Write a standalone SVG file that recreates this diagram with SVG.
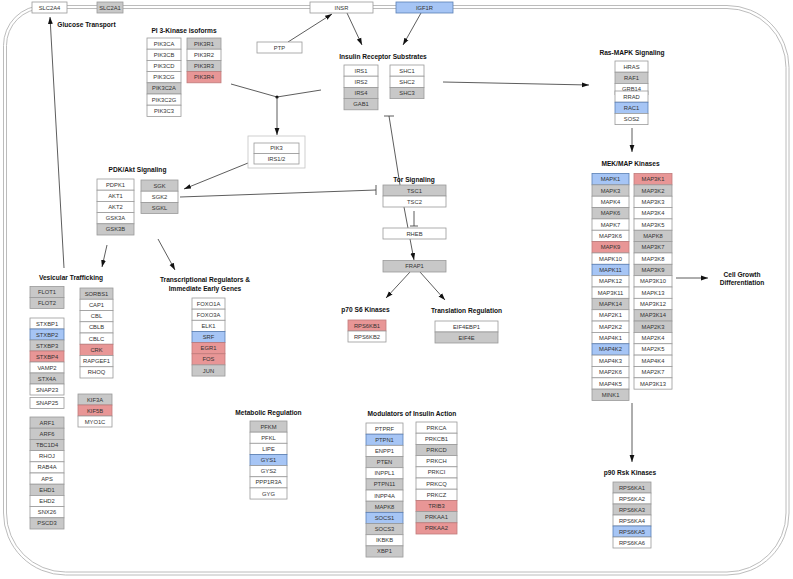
<svg xmlns="http://www.w3.org/2000/svg" width="793" height="579" viewBox="0 0 793 579">
<style>
rect{stroke-width:0.8}
.w{fill:#ffffff;stroke:#9a9a9a}
.g{fill:#c8c8c8;stroke:#9a9a9a}
.b{fill:#a6c5f5;stroke:#5a7fb5}
.r{fill:#e89696;stroke:#c07a7a}
text{font-family:"Liberation Sans",Arial,sans-serif}
.t{font-size:5.8px;fill:#333;text-anchor:middle}
.h{font-size:6.6px;font-weight:bold;fill:#111;text-anchor:middle}
.c line,.c path{stroke:#333;stroke-width:0.8;fill:none}
.mem{fill:none;stroke:#b4b4b4;stroke-width:0.9}
</style>
<defs>
<marker id="ah" markerUnits="userSpaceOnUse" markerWidth="8" markerHeight="6" refX="7" refY="3" orient="auto"><path d="M0,0.6 L7,3 L0,5.4 Z" fill="#111"/></marker>
</defs>
<rect width="793" height="579" fill="#fff"/>
<g id="membrane">
<path class="mem" d="M43.5,5.5 H727 A62 62 0 0 1 789,67.5 V513 A62 62 0 0 1 727,575 H65.5 A62 62 0 0 1 3.5,513 V45.5 A40 40 0 0 1 43.5,5.5 Z"/>
<path class="mem" d="M43.5,8.5 H727 A59 59 0 0 1 786,67.5 V513 A59 59 0 0 1 727,572 H65.5 A59 59 0 0 1 6.5,513 V45.5 A37 37 0 0 1 43.5,8.5 Z"/>
</g>
<g id="connectors" class="c">
<line x1="288" y1="42" x2="332" y2="14" marker-end="url(#ah)"/>
<line x1="347" y1="13" x2="362" y2="45" marker-end="url(#ah)"/>
<line x1="421" y1="13" x2="403" y2="45" marker-end="url(#ah)"/>
<line x1="443" y1="82" x2="589" y2="85" marker-end="url(#ah)"/>
<line x1="632" y1="128" x2="632" y2="152" marker-end="url(#ah)"/>
<line x1="676" y1="278" x2="708" y2="278" marker-end="url(#ah)"/>
<line x1="632" y1="403" x2="632" y2="462" marker-end="url(#ah)"/>
<line x1="231" y1="84" x2="277" y2="97"/>
<line x1="321" y1="90" x2="277" y2="97"/>
<circle cx="277" cy="97" r="1.6" fill="#111"/>
<line x1="277" y1="97" x2="277" y2="135" marker-end="url(#ah)"/>
<line x1="248" y1="163" x2="184" y2="189" marker-end="url(#ah)"/>
<line x1="180" y1="197" x2="376" y2="190"/>
<line x1="376" y1="185" x2="376" y2="195"/>
<line x1="400" y1="185" x2="389" y2="116"/>
<line x1="384" y1="116" x2="394" y2="116"/>
<line x1="414" y1="211" x2="414" y2="226"/>
<line x1="410" y1="226" x2="418" y2="226"/>
<line x1="404" y1="207" x2="414" y2="260" marker-end="url(#ah)"/>
<line x1="410" y1="272" x2="386" y2="298" marker-end="url(#ah)"/>
<line x1="420" y1="272" x2="445" y2="300" marker-end="url(#ah)"/>
<line x1="107" y1="245" x2="102" y2="267" marker-end="url(#ah)"/>
<line x1="158" y1="239" x2="175" y2="270" marker-end="url(#ah)"/>
<line x1="64" y1="268" x2="50" y2="17" marker-end="url(#ah)"/>
</g>
<g id="titles">
<text class="h" x="86.5" y="26.5">Glucose Transport</text>
<text class="h" x="184" y="33">PI 3-Kinase isoforms</text>
<text class="h" x="383" y="58.5">Insulin Receptor Substrates</text>
<text class="h" x="632" y="54.5">Ras-MAPK Signaling</text>
<text class="h" x="630.5" y="165.5">MEK/MAP Kinases</text>
<text class="h" x="137.5" y="171.5">PDK/Akt Signaling</text>
<text class="h" x="414" y="181.5">Tor Signaling</text>
<text class="h" x="71" y="279.5">Vesicular Trafficking</text>
<text class="h" x="205" y="282.3">Transcriptional Regulators &amp;</text>
<text class="h" x="205" y="290.5">Immediate Early Genes</text>
<text class="h" x="365.5" y="311.5">p70 S6 Kinases</text>
<text class="h" x="466.5" y="312.5">Translation Regulation</text>
<text class="h" x="742" y="276.5">Cell Growth</text>
<text class="h" x="742" y="285">Differentiation</text>
<text class="h" x="268.5" y="414.5">Metabolic Regulation</text>
<text class="h" x="412" y="415.5">Modulators of Insulin Action</text>
<text class="h" x="630" y="474.5">p90 Rsk Kinases</text>
</g>
<g id="n-SLC2A4"><rect class="w" x="32" y="2" width="35" height="11"/><text class="t" x="49.5" y="9.6">SLC2A4</text></g>
<g id="n-SLC2A1"><rect class="g" x="97" y="2" width="26" height="11"/><text class="t" x="110" y="9.6">SLC2A1</text></g>
<g id="n-INSR"><rect class="w" x="310" y="2" width="63" height="11"/><text class="t" x="341.5" y="9.6">INSR</text></g>
<g id="n-IGF1R"><rect class="b" x="396" y="2" width="57" height="11"/><text class="t" x="424.5" y="9.6">IGF1R</text></g>
<g id="n-PTP"><rect class="w" x="257" y="42" width="45" height="11"/><text class="t" x="279.5" y="49.6">PTP</text></g>
<g id="n-PIK3CA"><rect class="w" x="147" y="38" width="34" height="11.2"/><text class="t" x="164" y="45.6">PIK3CA</text></g>
<g id="n-PIK3CB"><rect class="w" x="147" y="49.2" width="34" height="11.2"/><text class="t" x="164" y="56.8">PIK3CB</text></g>
<g id="n-PIK3CD"><rect class="w" x="147" y="60.4" width="34" height="11.2"/><text class="t" x="164" y="68">PIK3CD</text></g>
<g id="n-PIK3CG"><rect class="w" x="147" y="71.6" width="34" height="11.2"/><text class="t" x="164" y="79.2">PIK3CG</text></g>
<g id="n-PIK3C2A"><rect class="g" x="147" y="82.8" width="34" height="11.2"/><text class="t" x="164" y="90.4">PIK3C2A</text></g>
<g id="n-PIK3C2G"><rect class="w" x="147" y="94" width="34" height="11.2"/><text class="t" x="164" y="101.6">PIK3C2G</text></g>
<g id="n-PIK3C3"><rect class="w" x="147" y="105.2" width="34" height="11.2"/><text class="t" x="164" y="112.8">PIK3C3</text></g>
<g id="n-PIK3R1"><rect class="g" x="187" y="38" width="34" height="11.2"/><text class="t" x="204" y="45.6">PIK3R1</text></g>
<g id="n-PIK3R2"><rect class="w" x="187" y="49.2" width="34" height="11.2"/><text class="t" x="204" y="56.8">PIK3R2</text></g>
<g id="n-PIK3R3"><rect class="g" x="187" y="60.4" width="34" height="11.2"/><text class="t" x="204" y="68">PIK3R3</text></g>
<g id="n-PIK3R4"><rect class="r" x="187" y="71.6" width="34" height="11.2"/><text class="t" x="204" y="79.2">PIK3R4</text></g>
<g id="n-IRS1"><rect class="w" x="344" y="65" width="34" height="11.2"/><text class="t" x="361" y="72.6">IRS1</text></g>
<g id="n-IRS2"><rect class="w" x="344" y="76.2" width="34" height="11.2"/><text class="t" x="361" y="83.8">IRS2</text></g>
<g id="n-IRS4"><rect class="g" x="344" y="87.4" width="34" height="11.2"/><text class="t" x="361" y="95">IRS4</text></g>
<g id="n-GAB1"><rect class="g" x="344" y="98.6" width="34" height="11.2"/><text class="t" x="361" y="106.2">GAB1</text></g>
<g id="n-SHC1"><rect class="w" x="390" y="65" width="34" height="11.2"/><text class="t" x="407" y="72.6">SHC1</text></g>
<g id="n-SHC2"><rect class="w" x="390" y="76.2" width="34" height="11.2"/><text class="t" x="407" y="83.8">SHC2</text></g>
<g id="n-SHC3"><rect class="g" x="390" y="87.4" width="34" height="11.2"/><text class="t" x="407" y="95">SHC3</text></g>
<g id="n-HRAS"><rect class="w" x="615" y="61" width="33" height="11.2"/><text class="t" x="631.5" y="68.6">HRAS</text></g>
<g id="n-RAF1"><rect class="g" x="615" y="72.2" width="33" height="11.2"/><text class="t" x="631.5" y="79.8">RAF1</text></g>
<g id="n-GRB14"><rect class="w" x="615" y="83.4" width="33" height="11.2"/><text class="t" x="631.5" y="90.6">GRB14</text></g>
<g id="n-RRAD"><rect class="w" x="615" y="91" width="33" height="11.2"/><text class="t" x="631.5" y="98.6">RRAD</text></g>
<g id="n-RAC1"><rect class="b" x="615" y="102.2" width="33" height="11.2"/><text class="t" x="631.5" y="109.8">RAC1</text></g>
<g id="n-SOS2"><rect class="w" x="615" y="113.4" width="33" height="11.2"/><text class="t" x="631.5" y="121">SOS2</text></g>
<g id="n-MAPK1"><rect class="b" x="592" y="173.5" width="37" height="11.35"/><text class="t" x="610.5" y="181.2">MAPK1</text></g>
<g id="n-MAPK3"><rect class="g" x="592" y="184.85" width="37" height="11.35"/><text class="t" x="610.5" y="192.55">MAPK3</text></g>
<g id="n-MAPK4"><rect class="w" x="592" y="196.2" width="37" height="11.35"/><text class="t" x="610.5" y="203.9">MAPK4</text></g>
<g id="n-MAPK6"><rect class="g" x="592" y="207.55" width="37" height="11.35"/><text class="t" x="610.5" y="215.25">MAPK6</text></g>
<g id="n-MAPK7"><rect class="w" x="592" y="218.9" width="37" height="11.35"/><text class="t" x="610.5" y="226.6">MAPK7</text></g>
<g id="n-MAP3K6"><rect class="w" x="592" y="230.25" width="37" height="11.35"/><text class="t" x="610.5" y="237.95">MAP3K6</text></g>
<g id="n-MAPK9"><rect class="r" x="592" y="241.6" width="37" height="11.35"/><text class="t" x="610.5" y="249.3">MAPK9</text></g>
<g id="n-MAPK10"><rect class="w" x="592" y="252.95" width="37" height="11.35"/><text class="t" x="610.5" y="260.65">MAPK10</text></g>
<g id="n-MAPK11"><rect class="b" x="592" y="264.3" width="37" height="11.35"/><text class="t" x="610.5" y="272">MAPK11</text></g>
<g id="n-MAPK12"><rect class="w" x="592" y="275.65" width="37" height="11.35"/><text class="t" x="610.5" y="283.35">MAPK12</text></g>
<g id="n-MAP3K11"><rect class="w" x="592" y="287" width="37" height="11.35"/><text class="t" x="610.5" y="294.7">MAP3K11</text></g>
<g id="n-MAPK14"><rect class="g" x="592" y="298.35" width="37" height="11.35"/><text class="t" x="610.5" y="306.05">MAPK14</text></g>
<g id="n-MAP2K1"><rect class="w" x="592" y="309.7" width="37" height="11.35"/><text class="t" x="610.5" y="317.4">MAP2K1</text></g>
<g id="n-MAP2K2"><rect class="w" x="592" y="321.05" width="37" height="11.35"/><text class="t" x="610.5" y="328.75">MAP2K2</text></g>
<g id="n-MAP4K1"><rect class="w" x="592" y="332.4" width="37" height="11.35"/><text class="t" x="610.5" y="340.1">MAP4K1</text></g>
<g id="n-MAP4K2"><rect class="b" x="592" y="343.75" width="37" height="11.35"/><text class="t" x="610.5" y="351.45">MAP4K2</text></g>
<g id="n-MAP4K3"><rect class="w" x="592" y="355.1" width="37" height="11.35"/><text class="t" x="610.5" y="362.8">MAP4K3</text></g>
<g id="n-MAP2K6"><rect class="w" x="592" y="366.45" width="37" height="11.35"/><text class="t" x="610.5" y="374.15">MAP2K6</text></g>
<g id="n-MAP4K5"><rect class="w" x="592" y="377.8" width="37" height="11.35"/><text class="t" x="610.5" y="385.5">MAP4K5</text></g>
<g id="n-MINK1"><rect class="g" x="592" y="389.15" width="37" height="11.35"/><text class="t" x="610.5" y="396.85">MINK1</text></g>
<g id="n-MAP3K1"><rect class="r" x="634" y="173.5" width="38" height="11.35"/><text class="t" x="653" y="181.2">MAP3K1</text></g>
<g id="n-MAP3K2"><rect class="g" x="634" y="184.85" width="38" height="11.35"/><text class="t" x="653" y="192.55">MAP3K2</text></g>
<g id="n-MAP3K3"><rect class="w" x="634" y="196.2" width="38" height="11.35"/><text class="t" x="653" y="203.9">MAP3K3</text></g>
<g id="n-MAP3K4"><rect class="w" x="634" y="207.55" width="38" height="11.35"/><text class="t" x="653" y="215.25">MAP3K4</text></g>
<g id="n-MAP3K5"><rect class="w" x="634" y="218.9" width="38" height="11.35"/><text class="t" x="653" y="226.6">MAP3K5</text></g>
<g id="n-MAPK8b"><rect class="g" x="634" y="230.25" width="38" height="11.35"/><text class="t" x="653" y="237.95">MAPK8</text></g>
<g id="n-MAP3K7"><rect class="g" x="634" y="241.6" width="38" height="11.35"/><text class="t" x="653" y="249.3">MAP3K7</text></g>
<g id="n-MAP3K8"><rect class="w" x="634" y="252.95" width="38" height="11.35"/><text class="t" x="653" y="260.65">MAP3K8</text></g>
<g id="n-MAP3K9"><rect class="g" x="634" y="264.3" width="38" height="11.35"/><text class="t" x="653" y="272">MAP3K9</text></g>
<g id="n-MAP3K10"><rect class="w" x="634" y="275.65" width="38" height="11.35"/><text class="t" x="653" y="283.35">MAP3K10</text></g>
<g id="n-MAPK13"><rect class="w" x="634" y="287" width="38" height="11.35"/><text class="t" x="653" y="294.7">MAPK13</text></g>
<g id="n-MAP3K12"><rect class="w" x="634" y="298.35" width="38" height="11.35"/><text class="t" x="653" y="306.05">MAP3K12</text></g>
<g id="n-MAP3K14"><rect class="g" x="634" y="309.7" width="38" height="11.35"/><text class="t" x="653" y="317.4">MAP3K14</text></g>
<g id="n-MAP2K3"><rect class="g" x="634" y="321.05" width="38" height="11.35"/><text class="t" x="653" y="328.75">MAP2K3</text></g>
<g id="n-MAP2K4"><rect class="w" x="634" y="332.4" width="38" height="11.35"/><text class="t" x="653" y="340.1">MAP2K4</text></g>
<g id="n-MAP2K5"><rect class="w" x="634" y="343.75" width="38" height="11.35"/><text class="t" x="653" y="351.45">MAP2K5</text></g>
<g id="n-MAP4K4"><rect class="w" x="634" y="355.1" width="38" height="11.35"/><text class="t" x="653" y="362.8">MAP4K4</text></g>
<g id="n-MAP2K7"><rect class="w" x="634" y="366.45" width="38" height="11.35"/><text class="t" x="653" y="374.15">MAP2K7</text></g>
<g id="n-MAP3K13"><rect class="w" x="634" y="377.8" width="38" height="11.35"/><text class="t" x="653" y="385.5">MAP3K13</text></g>
<g id="n-RPS6KA1"><rect class="g" x="613" y="482" width="38" height="11"/><text class="t" x="632" y="489.6">RPS6KA1</text></g>
<g id="n-RPS6KA2"><rect class="w" x="613" y="493" width="38" height="11"/><text class="t" x="632" y="500.6">RPS6KA2</text></g>
<g id="n-RPS6KA3"><rect class="g" x="613" y="504" width="38" height="11"/><text class="t" x="632" y="511.6">RPS6KA3</text></g>
<g id="n-RPS6KA4"><rect class="w" x="613" y="515" width="38" height="11"/><text class="t" x="632" y="522.6">RPS6KA4</text></g>
<g id="n-RPS6KA5"><rect class="b" x="613" y="526" width="38" height="11"/><text class="t" x="632" y="533.6">RPS6KA5</text></g>
<g id="n-RPS6KA6"><rect class="w" x="613" y="537" width="38" height="11"/><text class="t" x="632" y="544.6">RPS6KA6</text></g>
<g id="n-PDPK1"><rect class="w" x="97" y="179" width="37" height="11.2"/><text class="t" x="115.5" y="186.6">PDPK1</text></g>
<g id="n-AKT1"><rect class="w" x="97" y="190.2" width="37" height="11.2"/><text class="t" x="115.5" y="197.8">AKT1</text></g>
<g id="n-AKT2"><rect class="w" x="97" y="201.4" width="37" height="11.2"/><text class="t" x="115.5" y="209">AKT2</text></g>
<g id="n-GSK3A"><rect class="w" x="97" y="212.6" width="37" height="11.2"/><text class="t" x="115.5" y="220.2">GSK3A</text></g>
<g id="n-GSK3B"><rect class="g" x="97" y="223.8" width="37" height="11.2"/><text class="t" x="115.5" y="231.4">GSK3B</text></g>
<g id="n-SGK"><rect class="g" x="141" y="180" width="37" height="11.2"/><text class="t" x="159.5" y="187.6">SGK</text></g>
<g id="n-SGK2"><rect class="w" x="141" y="191.2" width="37" height="11.2"/><text class="t" x="159.5" y="198.8">SGK2</text></g>
<g id="n-SGKL"><rect class="g" x="141" y="202.4" width="37" height="11.2"/><text class="t" x="159.5" y="210">SGKL</text></g>
<g id="n-complex"><rect x="248" y="136" width="57" height="32" fill="#fff" stroke="#c4c4c4" stroke-width="0.8"/>
<rect class="w" x="254" y="143" width="45" height="10.5"/><text class="t" x="276.5" y="150.3">PIK3</text>
<rect class="w" x="254" y="153.5" width="45" height="10.5"/><text class="t" x="276.5" y="160.8">IRS1/2</text></g>
<g id="n-TSC1"><rect class="g" x="383" y="185" width="63" height="11"/><text class="t" x="414.5" y="192.6">TSC1</text></g>
<g id="n-TSC2"><rect class="w" x="383" y="196" width="63" height="11"/><text class="t" x="414.5" y="203.6">TSC2</text></g>
<g id="n-RHEB"><rect class="w" x="383" y="228" width="63" height="11"/><text class="t" x="414.5" y="235.6">RHEB</text></g>
<g id="n-FRAP1"><rect class="g" x="383" y="260.5" width="63" height="11.5"/><text class="t" x="414.5" y="268.3">FRAP1</text></g>
<g id="n-RPS6KB1"><rect class="r" x="348" y="320" width="38" height="11"/><text class="t" x="367" y="327.6">RPS6KB1</text></g>
<g id="n-RPS6KB2"><rect class="w" x="348" y="331" width="38" height="11"/><text class="t" x="367" y="338.6">RPS6KB2</text></g>
<g id="n-EIF4EBP1"><rect class="w" x="435" y="321" width="63" height="11"/><text class="t" x="466.5" y="328.6">EIF4EBP1</text></g>
<g id="n-EIF4E"><rect class="g" x="435" y="332" width="63" height="11"/><text class="t" x="466.5" y="339.6">EIF4E</text></g>
<g id="n-FLOT1"><rect class="g" x="30" y="286.5" width="34" height="11"/><text class="t" x="47" y="294.1">FLOT1</text></g>
<g id="n-FLOT2"><rect class="g" x="30" y="297.5" width="34" height="11"/><text class="t" x="47" y="305.1">FLOT2</text></g>
<g id="n-STXBP1"><rect class="w" x="30" y="318" width="34" height="11"/><text class="t" x="47" y="325.6">STXBP1</text></g>
<g id="n-STXBP2"><rect class="b" x="30" y="329" width="34" height="11"/><text class="t" x="47" y="336.6">STXBP2</text></g>
<g id="n-STXBP3"><rect class="g" x="30" y="340" width="34" height="11"/><text class="t" x="47" y="347.6">STXBP3</text></g>
<g id="n-STXBP4"><rect class="r" x="30" y="351" width="34" height="11"/><text class="t" x="47" y="358.6">STXBP4</text></g>
<g id="n-VAMP2"><rect class="w" x="30" y="362" width="34" height="11"/><text class="t" x="47" y="369.6">VAMP2</text></g>
<g id="n-STX4A"><rect class="g" x="30" y="373" width="34" height="11"/><text class="t" x="47" y="380.6">STX4A</text></g>
<g id="n-SNAP23"><rect class="w" x="30" y="384" width="34" height="11"/><text class="t" x="47" y="391.6">SNAP23</text></g>
<g id="n-SNAP25"><rect class="w" x="30" y="397.5" width="34" height="11"/><text class="t" x="47" y="405.1">SNAP25</text></g>
<g id="n-ARF1"><rect class="g" x="30" y="417" width="34" height="11.2"/><text class="t" x="47" y="424.6">ARF1</text></g>
<g id="n-ARF6"><rect class="g" x="30" y="428.2" width="34" height="11.2"/><text class="t" x="47" y="435.8">ARF6</text></g>
<g id="n-TBC1D4"><rect class="g" x="30" y="439.4" width="34" height="11.2"/><text class="t" x="47" y="447">TBC1D4</text></g>
<g id="n-RHOJ"><rect class="w" x="30" y="450.6" width="34" height="11.2"/><text class="t" x="47" y="458.2">RHOJ</text></g>
<g id="n-RAB4A"><rect class="w" x="30" y="461.8" width="34" height="11.2"/><text class="t" x="47" y="469.4">RAB4A</text></g>
<g id="n-APS"><rect class="w" x="30" y="473" width="34" height="11.2"/><text class="t" x="47" y="480.6">APS</text></g>
<g id="n-EHD1"><rect class="g" x="30" y="484.2" width="34" height="11.2"/><text class="t" x="47" y="491.8">EHD1</text></g>
<g id="n-EHD2"><rect class="w" x="30" y="495.4" width="34" height="11.2"/><text class="t" x="47" y="503">EHD2</text></g>
<g id="n-SNX26"><rect class="w" x="30" y="506.6" width="34" height="11.2"/><text class="t" x="47" y="514.2">SNX26</text></g>
<g id="n-PSCD3"><rect class="g" x="30" y="517.8" width="34" height="11.2"/><text class="t" x="47" y="525.4">PSCD3</text></g>
<g id="n-SORBS1"><rect class="g" x="80" y="288" width="33" height="11.25"/><text class="t" x="96.5" y="295.6">SORBS1</text></g>
<g id="n-CAP1"><rect class="w" x="80" y="299.25" width="33" height="11.25"/><text class="t" x="96.5" y="306.85">CAP1</text></g>
<g id="n-CBL"><rect class="w" x="80" y="310.5" width="33" height="11.25"/><text class="t" x="96.5" y="318.1">CBL</text></g>
<g id="n-CBLB"><rect class="w" x="80" y="321.75" width="33" height="11.25"/><text class="t" x="96.5" y="329.35">CBLB</text></g>
<g id="n-CBLC"><rect class="w" x="80" y="333" width="33" height="11.25"/><text class="t" x="96.5" y="340.6">CBLC</text></g>
<g id="n-CRK"><rect class="r" x="80" y="344.25" width="33" height="11.25"/><text class="t" x="96.5" y="351.85">CRK</text></g>
<g id="n-RAPGEF1"><rect class="w" x="80" y="355.5" width="33" height="11.25"/><text class="t" x="96.5" y="363.1">RAPGEF1</text></g>
<g id="n-RHOQ"><rect class="w" x="80" y="366.75" width="33" height="11.25"/><text class="t" x="96.5" y="374.35">RHOQ</text></g>
<g id="n-KIF3A"><rect class="g" x="78" y="394" width="34" height="11"/><text class="t" x="95" y="401.6">KIF3A</text></g>
<g id="n-KIF5B"><rect class="r" x="78" y="405" width="34" height="11"/><text class="t" x="95" y="412.6">KIF5B</text></g>
<g id="n-MYO1C"><rect class="w" x="78" y="416" width="34" height="11"/><text class="t" x="95" y="423.6">MYO1C</text></g>
<g id="n-FOXO1A"><rect class="w" x="192" y="298" width="33" height="11.15"/><text class="t" x="208.5" y="305.6">FOXO1A</text></g>
<g id="n-FOXO3A"><rect class="w" x="192" y="309.15" width="33" height="11.15"/><text class="t" x="208.5" y="316.75">FOXO3A</text></g>
<g id="n-ELK1"><rect class="w" x="192" y="320.3" width="33" height="11.15"/><text class="t" x="208.5" y="327.9">ELK1</text></g>
<g id="n-SRF"><rect class="b" x="192" y="331.45" width="33" height="11.15"/><text class="t" x="208.5" y="339.05">SRF</text></g>
<g id="n-EGR1"><rect class="r" x="192" y="342.6" width="33" height="11.15"/><text class="t" x="208.5" y="350.2">EGR1</text></g>
<g id="n-FOS"><rect class="r" x="192" y="353.75" width="33" height="11.15"/><text class="t" x="208.5" y="361.35">FOS</text></g>
<g id="n-JUN"><rect class="g" x="192" y="364.9" width="33" height="11.15"/><text class="t" x="208.5" y="372.5">JUN</text></g>
<g id="n-PFKM"><rect class="g" x="250" y="421" width="37" height="11.15"/><text class="t" x="268.5" y="428.6">PFKM</text></g>
<g id="n-PFKL"><rect class="w" x="250" y="432.15" width="37" height="11.15"/><text class="t" x="268.5" y="439.75">PFKL</text></g>
<g id="n-LIPE"><rect class="w" x="250" y="443.3" width="37" height="11.15"/><text class="t" x="268.5" y="450.9">LIPE</text></g>
<g id="n-GYS1"><rect class="b" x="250" y="454.45" width="37" height="11.15"/><text class="t" x="268.5" y="462.05">GYS1</text></g>
<g id="n-GYS2"><rect class="w" x="250" y="465.6" width="37" height="11.15"/><text class="t" x="268.5" y="473.2">GYS2</text></g>
<g id="n-PPP1R3A"><rect class="w" x="250" y="476.75" width="37" height="11.15"/><text class="t" x="268.5" y="484.35">PPP1R3A</text></g>
<g id="n-GYG"><rect class="w" x="250" y="487.9" width="37" height="11.15"/><text class="t" x="268.5" y="495.5">GYG</text></g>
<g id="n-PTPRF"><rect class="w" x="366" y="423" width="37" height="11.17"/><text class="t" x="384.5" y="430.6">PTPRF</text></g>
<g id="n-PTPN1"><rect class="b" x="366" y="434.17" width="37" height="11.17"/><text class="t" x="384.5" y="441.77">PTPN1</text></g>
<g id="n-ENPP1"><rect class="w" x="366" y="445.34" width="37" height="11.17"/><text class="t" x="384.5" y="452.94">ENPP1</text></g>
<g id="n-PTEN"><rect class="g" x="366" y="456.51" width="37" height="11.17"/><text class="t" x="384.5" y="464.11">PTEN</text></g>
<g id="n-INPPL1"><rect class="w" x="366" y="467.68" width="37" height="11.17"/><text class="t" x="384.5" y="475.28">INPPL1</text></g>
<g id="n-PTPN11"><rect class="g" x="366" y="478.85" width="37" height="11.17"/><text class="t" x="384.5" y="486.45">PTPN11</text></g>
<g id="n-INPP4A"><rect class="w" x="366" y="490.02" width="37" height="11.17"/><text class="t" x="384.5" y="497.62">INPP4A</text></g>
<g id="n-MAPK8"><rect class="g" x="366" y="501.19" width="37" height="11.17"/><text class="t" x="384.5" y="508.79">MAPK8</text></g>
<g id="n-SOCS1"><rect class="b" x="366" y="512.36" width="37" height="11.17"/><text class="t" x="384.5" y="519.96">SOCS1</text></g>
<g id="n-SOCS3"><rect class="g" x="366" y="523.53" width="37" height="11.17"/><text class="t" x="384.5" y="531.13">SOCS3</text></g>
<g id="n-IKBKB"><rect class="w" x="366" y="534.7" width="37" height="11.17"/><text class="t" x="384.5" y="542.3">IKBKB</text></g>
<g id="n-XBP1"><rect class="g" x="366" y="545.87" width="37" height="11.17"/><text class="t" x="384.5" y="553.47">XBP1</text></g>
<g id="n-PRKCA"><rect class="w" x="416" y="422" width="41" height="11.2"/><text class="t" x="436.5" y="429.6">PRKCA</text></g>
<g id="n-PRKCB1"><rect class="w" x="416" y="433.2" width="41" height="11.2"/><text class="t" x="436.5" y="440.8">PRKCB1</text></g>
<g id="n-PRKCD"><rect class="g" x="416" y="444.4" width="41" height="11.2"/><text class="t" x="436.5" y="452">PRKCD</text></g>
<g id="n-PRKCH"><rect class="w" x="416" y="455.6" width="41" height="11.2"/><text class="t" x="436.5" y="463.2">PRKCH</text></g>
<g id="n-PRKCI"><rect class="w" x="416" y="466.8" width="41" height="11.2"/><text class="t" x="436.5" y="474.4">PRKCI</text></g>
<g id="n-PRKCQ"><rect class="w" x="416" y="478" width="41" height="11.2"/><text class="t" x="436.5" y="485.6">PRKCQ</text></g>
<g id="n-PRKCZ"><rect class="w" x="416" y="489.2" width="41" height="11.2"/><text class="t" x="436.5" y="496.8">PRKCZ</text></g>
<g id="n-TRIB3"><rect class="r" x="416" y="500.4" width="41" height="11.2"/><text class="t" x="436.5" y="508">TRIB3</text></g>
<g id="n-PRKAA1"><rect class="g" x="416" y="511.6" width="41" height="11.2"/><text class="t" x="436.5" y="519.2">PRKAA1</text></g>
<g id="n-PRKAA2"><rect class="r" x="416" y="522.8" width="41" height="11.2"/><text class="t" x="436.5" y="530.4">PRKAA2</text></g>
</svg>
